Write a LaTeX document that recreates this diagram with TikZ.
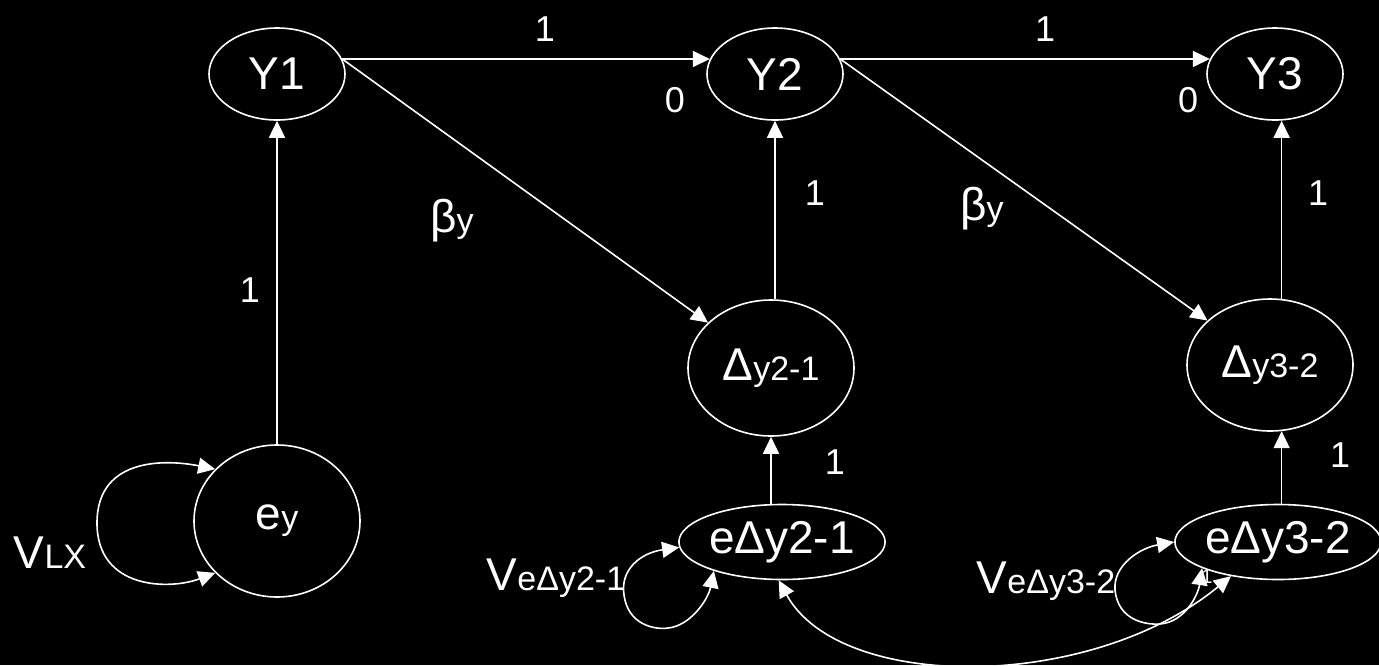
\documentclass[tikz,border=0pt]{standalone}
\usepackage{fontspec}
\setmainfont{Liberation Sans}
\usetikzlibrary{shapes.geometric,arrows.meta,calc}
\newcommand\fbig{\fontsize{46}{50}\selectfont}
\newcommand\fsml{\fontsize{34}{38}\selectfont}
\newcommand\flab{\fontsize{36}{40}\selectfont}
\newcommand\ftiny{\fontsize{20}{22}\selectfont}
\begin{document}
\begin{tikzpicture}[x=1pt,y=-1pt,
  var/.style={draw=white, line width=1.6pt, ellipse, inner sep=0pt, text=white},
  lab/.style={text=white, inner sep=0pt, font=\flab},
  arr/.style={draw=white, line width=1.6pt, -{Triangle[length=17pt,width=16pt]}},
  dbl/.style={draw=white, line width=1.6pt, {Triangle[length=17pt,width=16pt]}-{Triangle[length=17pt,width=16pt]}}]
\fill[black] (0,0) rectangle (1379,665);
\useasboundingbox (0,0) rectangle (1379,665);
% nodes
\node[var, minimum width=136pt, minimum height=92pt] (Y1) at (277,74) {\fbig Y1};
\node[var, minimum width=136pt, minimum height=92pt] (Y2) at (775,74) {\fbig Y2};
\node[var, minimum width=136pt, minimum height=92pt] (Y3) at (1275,74) {\fbig Y3};
\node[var, minimum width=166pt, minimum height=152pt] (ey) at (277,521) {\fbig e\fsml y};
\node[var, minimum width=166pt, minimum height=136pt] (D21) at (771,368) {\fbig Δ\fsml y2-1};
\node[var, minimum width=166pt, minimum height=132pt] (D32) at (1270,365) {\fbig Δ\fsml y3-2};
\node[var, minimum width=205pt, minimum height=75pt] (eD21) at (782,542) {\fbig eΔy2-1};
\node[var, minimum width=200pt, minimum height=75pt] (eD32) at (1278,542) {\fbig eΔy3-2};
% straight paths
\draw[arr] (Y1.13) -- (Y2.167);
\draw[arr] (Y2.13) -- (Y3.167);
\draw[arr] (Y1.13) -- (D21);
\draw[arr] (Y2.13) -- (D32);
\draw[arr] (ey) -- (Y1);
\draw[arr] (D21.north -| Y2.south) -- (Y2.south);
\draw[arr] (D32.80) -- (D32.80 |- Y3.south);
\draw[arr] (eD21.north -| D21.south) -- (D21.south);
\draw[arr] (D32.280 |- eD32.north) -- (D32.280);
% variances
\draw[dbl] (ey.140) .. controls (170,460) and (97,455) .. (97,523) .. controls (97,590) and (170,590) .. (ey.220);
\draw[dbl] (eD21.183) .. controls (640,553) and (620,570) .. (624,595) .. controls (628,625) and (655,630) .. (668,628) .. controls (690,626) and (708,600) .. (eD21.203);
\draw[dbl] (eD32.180) .. controls (1140,548) and (1113,565) .. (1115,590) .. controls (1118,620) and (1145,625) .. (1160,624) .. controls (1185,622) and (1198,595) .. (eD32.199);
\draw[dbl] (eD21.265) .. controls (840,692) and (1090,692) .. (eD32.216);
% labels
\node[lab] (a1) at (545,29) {1};
\node[lab] (a0) at (675,100) {0};
\node[lab] (b1) at (1045,29) {1};
\node[lab] (b0) at (1188,100) {0};
\node[lab] (c1) at (250,290) {1};
\node[lab] (d1) at (815,193) {1};
\node[lab] (e1) at (1318,193) {1};
\node[lab] (f1) at (835,462) {1};
\node[lab] (g1) at (1340,455) {1};
\node[lab, anchor=base] (beta1) at (452,232) {\fbig β\fsml y};
\node[lab, anchor=base] (beta2) at (982,220) {\fbig β\fsml y};
\node[lab, anchor=base] (vlx) at (50,568) {\fbig V\fsml LX};
\node[lab, anchor=base] (v21) at (556,590) {\fbig V\fsml eΔy2-1};
\node[lab, anchor=base] (v32) at (1046,593) {\fbig V\fsml eΔy3-2};
\node[lab, font=\ftiny] (tiny1) at (1207,577) {1};
\end{tikzpicture}
\end{document}
